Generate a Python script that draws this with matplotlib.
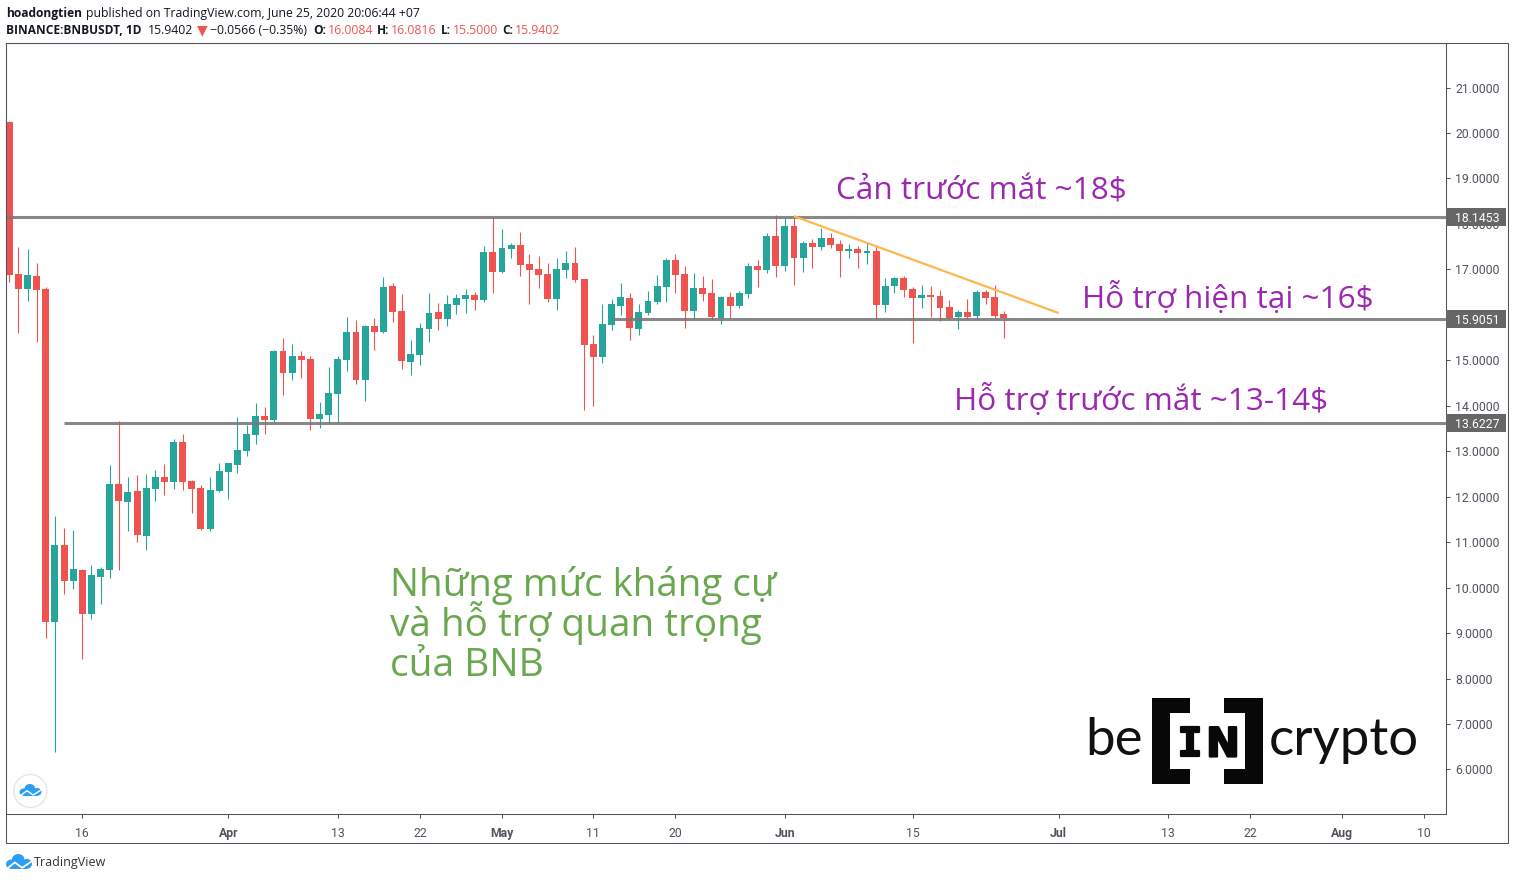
# BNBUSDT daily candles with support / resistance levels (TradingView style)
import matplotlib
matplotlib.use("Agg")
import matplotlib.dates as mdates
import matplotlib.patheffects as pe
import matplotlib.pyplot as plt
from matplotlib.patches import Circle, Ellipse, Rectangle
from matplotlib.transforms import blended_transform_factory
import pandas as pd

# ---------------------------------------------------------------------------
# Data
# ---------------------------------------------------------------------------
START_DATE = "2020-03-08"

opens = [20.24, 16.90, 16.57, 16.85, 16.57, 9.25, 10.94, 10.15, 10.39, 9.43,
         10.24, 10.39, 12.28, 11.89, 12.12, 11.14, 12.18, 12.43, 12.33, 13.20,
         12.35, 12.19, 11.30, 12.13, 12.55, 12.70, 13.01, 13.36, 13.77, 13.69,
         15.20, 14.73, 15.09, 15.03, 13.70, 13.80, 14.26, 15.01, 15.62, 14.57,
         15.75, 15.63, 16.63, 16.08, 14.97, 15.12, 15.69, 16.06, 15.91, 16.22,
         16.35, 16.43, 16.33, 17.38, 16.95, 17.45, 17.53, 17.12, 17.01, 16.90,
         16.35, 16.99, 17.14, 16.79, 15.36, 15.07, 15.77, 16.19, 16.37, 15.69,
         16.04, 16.28, 16.61, 17.20, 16.90, 16.08, 16.59, 16.48, 15.93, 16.39,
         16.19, 16.46, 17.07, 16.99, 17.73, 17.07, 17.95, 17.25, 17.58, 17.49,
         17.69, 17.56, 17.40, 17.45, 17.36, 17.40, 16.21, 16.63, 16.81, 16.57,
         16.37, 16.43, 16.41, 16.17, 15.95, 16.06, 15.97, 16.50, 16.39, 16.0084]
highs = [20.26, 17.49, 17.45, 17.14, 16.61, 11.58, 11.31, 11.27, 10.41, 10.50,
         10.45, 12.70, 13.66, 12.43, 12.48, 12.50, 12.59, 12.72, 13.27, 13.38,
         12.37, 12.26, 12.43, 12.74, 12.74, 13.75, 13.58, 14.06, 13.97, 15.22,
         15.49, 15.36, 15.20, 15.09, 14.08, 14.85, 15.09, 15.95, 15.89, 15.77,
         15.93, 16.83, 16.70, 16.46, 15.45, 15.82, 16.48, 16.26, 16.43, 16.46,
         16.57, 16.50, 17.51, 18.15, 17.88, 17.58, 17.82, 17.34, 17.29, 17.14,
         17.25, 17.40, 17.49, 16.79, 15.56, 16.24, 16.35, 16.70, 16.48, 16.24,
         16.52, 16.87, 17.25, 17.34, 17.07, 16.92, 16.85, 16.79, 16.41, 16.50,
         16.52, 17.14, 17.20, 17.80, 18.20, 18.13, 18.20, 17.62, 17.67, 17.91,
         17.80, 17.64, 17.56, 17.51, 17.58, 17.51, 16.81, 16.83, 16.85, 16.61,
         16.65, 16.63, 16.55, 16.32, 16.10, 16.35, 16.55, 16.55, 16.65, 16.0816]
lows = [16.73, 15.61, 16.31, 15.41, 8.90, 6.39, 9.87, 9.98, 8.44, 9.32,
        9.65, 10.22, 10.39, 11.25, 11.01, 10.83, 11.91, 12.04, 12.18, 12.15,
        11.65, 11.27, 11.25, 12.11, 11.96, 12.53, 12.90, 13.17, 13.38, 13.63,
        14.24, 14.57, 14.62, 13.47, 13.52, 13.63, 13.64, 14.77, 14.48, 14.11,
        15.23, 15.61, 15.85, 14.81, 14.68, 14.90, 15.41, 15.67, 15.76, 16.02,
        16.05, 16.11, 16.29, 16.49, 16.93, 17.26, 16.85, 16.24, 16.59, 16.28,
        16.10, 16.81, 16.72, 13.91, 13.99, 14.94, 15.67, 16.00, 15.45, 15.56,
        16.00, 16.24, 16.28, 16.48, 15.71, 15.91, 16.30, 15.89, 15.80, 15.93,
        16.15, 16.37, 16.61, 16.92, 16.83, 16.96, 16.65, 16.94, 17.03, 17.42,
        17.47, 16.83, 17.25, 17.03, 17.12, 15.91, 16.06, 16.48, 16.39, 15.38,
        16.15, 15.95, 15.86, 15.89, 15.69, 15.91, 15.91, 16.24, 15.91, 15.50]
closes = [16.88, 16.57, 16.87, 16.55, 9.25, 10.94, 10.15, 10.41, 9.43, 10.28,
          10.41, 12.28, 11.91, 12.10, 11.16, 12.19, 12.43, 12.33, 13.20, 12.33,
          12.18, 11.30, 12.15, 12.56, 12.74, 13.03, 13.38, 13.77, 13.69, 15.20,
          14.73, 15.09, 15.01, 13.70, 13.82, 14.28, 15.03, 15.62, 14.57, 15.75,
          15.63, 16.61, 16.07, 14.99, 15.14, 15.71, 16.04, 15.91, 16.24, 16.37,
          16.43, 16.33, 17.38, 16.95, 17.47, 17.53, 17.10, 16.99, 16.87, 16.35,
          17.01, 17.14, 16.77, 15.34, 15.07, 15.80, 16.23, 16.39, 15.71, 16.06,
          16.30, 16.63, 17.20, 16.87, 16.08, 16.59, 16.46, 15.95, 16.39, 16.19,
          16.48, 17.07, 16.99, 17.73, 17.07, 17.95, 17.25, 17.58, 17.49, 17.69,
          17.53, 17.40, 17.45, 17.36, 17.40, 16.21, 16.63, 16.81, 16.55, 16.37,
          16.43, 16.39, 16.15, 15.93, 16.06, 15.95, 16.50, 16.37, 15.97, 15.9402]

price_ticks = list(range(6, 22))
date_ticks = ["2020-03-16", "2020-04-01", "2020-04-13", "2020-04-22", "2020-05-01",
              "2020-05-11", "2020-05-20", "2020-06-01", "2020-06-15", "2020-07-01",
              "2020-07-13", "2020-07-22", "2020-08-01", "2020-08-10"]
date_labels = ["16", "Apr", "13", "22", "May", "11", "20", "Jun", "15", "Jul",
               "13", "22", "Aug", "10"]
month_labels = ["Apr", "May", "Jun", "Jul", "Aug"]

level_values = [18.1453, 15.9051, 13.6227]
level_starts = ["2020-03-08", "2020-05-13", "2020-03-14"]
trend_dates = ["2020-06-02", "2020-07-01"]
trend_prices = [18.17, 16.04]

# ---------------------------------------------------------------------------
# Style
# ---------------------------------------------------------------------------
W, H = 1515, 880
UP = "#26a69a"
DOWN = "#ef5350"
AXIS = "#50535e"
LEVEL = "#787878"
BADGE = "#666666"
PURPLE = "#9c27b0"
GREEN = "#6aa84f"
BLUE = "#2e9ef4"
UI_FONT = ["Open Sans", "DejaVu Sans"]

plt.rcParams["font.family"] = ["Roboto", "DejaVu Sans"]

fig = plt.figure(figsize=(W / 100, H / 100), dpi=100, facecolor="white")
ax = fig.add_axes([6.0 / W, 1 - 814.0 / H, 1440 / W, 771 / H])

dates = pd.date_range(START_DATE, periods=len(opens))
x = mdates.date2num(dates)
first = x[0]

# ---------------------------------------------------------------------------
# Candles
# ---------------------------------------------------------------------------
colors = [UP if c >= o else DOWN for o, c in zip(opens, closes)]
tops = [max(o, c) for o, c in zip(opens, closes)]
bottoms = [min(o, c) for o, c in zip(opens, closes)]
heights = [t - b for t, b in zip(tops, bottoms)]

ax.vlines(x, lows, highs, colors=colors, linewidth=0.8, zorder=3)
ax.bar(x, heights, bottom=bottoms, width=0.76, color=colors, linewidth=0, zorder=3)

# Levels and trend line
for value, start in zip(level_values, level_starts):
    x_start = mdates.date2num(pd.Timestamp(start))
    if start == START_DATE:
        x_start = first - 0.36
    ax.plot([x_start, first + 157.45], [value, value], color=LEVEL, alpha=0.88,
            linewidth=2.2, solid_capstyle="butt", zorder=4)

ax.plot(mdates.date2num(pd.to_datetime(trend_dates)), trend_prices, color="#ffb74d",
        linewidth=1.6, solid_capstyle="butt", zorder=5)

# ---------------------------------------------------------------------------
# Axes
# ---------------------------------------------------------------------------
ax.set_xlim(first - 0.36, first + 157.45)
ax.set_ylim(5.02, 21.98)
ax.yaxis.tick_right()
ax.set_yticks(price_ticks)
ax.set_yticklabels([f"{p:.4f}" for p in price_ticks])
ax.set_xticks(mdates.date2num(pd.to_datetime(date_ticks)))
ax.set_xticklabels(date_labels)
ax.tick_params(axis="y", length=3, width=0.75, color=AXIS, labelcolor=AXIS,
               labelsize=8.8, pad=3.5)
ax.tick_params(axis="x", length=3, width=0.75, color=AXIS, labelcolor=AXIS,
               labelsize=8.8, pad=6)
for label in ax.get_xticklabels():
    if label.get_text() in month_labels:
        label.set_fontweight("bold")
for spine in ax.spines.values():
    spine.set_color(AXIS)
    spine.set_linewidth(0.75)

# Price badges on the right axis
badge_tf = blended_transform_factory(ax.transAxes, ax.transData)
for value in level_values:
    ax.add_patch(Rectangle((1.0003, value - 0.2), 0.0417, 0.4, transform=badge_tf,
                           facecolor=BADGE, edgecolor="none", clip_on=False, zorder=6))
    ax.text(1.0215, value, f"{value:.4f}", transform=badge_tf, color="white", ha="center",
            va="center_baseline", fontsize=8.8, clip_on=False, zorder=7)

# ---------------------------------------------------------------------------
# Overlay in pixel coordinates: frame, header, notes, logos
# ---------------------------------------------------------------------------
deco = fig.add_axes([0, 0, 1, 1], zorder=10)
deco.set_xlim(0, W)
deco.set_ylim(H, 0)
deco.axis("off")
deco.add_patch(Rectangle((6.0, 43.0), 1502, 800, fill=False, edgecolor=AXIS, linewidth=0.75))


def header(px, py, text, color="#131722", weight="normal", size=8.85):
    deco.text(px, py, text, color=color, fontweight=weight, fontsize=size, family=UI_FONT,
              va="baseline")


header(6, 17, "hoadongtien", weight="bold", size=8.65)
header(86, 17, "published on TradingView.com, June 25, 2020 20:06:44 +07")
header(6, 34, "BINANCE:BNBUSDT, 1D", weight="bold", size=8.6)
header(148, 34, "15.9402")
deco.text(196.5, 34, "▼", color=DOWN, fontsize=10, family="DejaVu Sans", va="baseline")
header(210, 34, "−0.0566 (−0.35%)")
for px, name, value_px, value in [(313, "O:", 328, "16.0084"), (377, "H:", 391, "16.0816"),
                                  (441, "L:", 453, "15.5000"), (502, "C:", 515, "15.9402")]:
    header(px, 34, name, weight="bold", size=8.6)
    header(value_px, 34, value, color=DOWN)

# Notes on the chart
NOTE_FONT = ["Open Sans", "DejaVu Sans"]
deco.text(836.5, 200, "Cản trước mắt ~18$", color=PURPLE, fontsize=22.65, family=NOTE_FONT)
deco.text(1082.5, 308, "Hỗ trợ hiện tại ~16$", color=PURPLE, fontsize=22.65, family=NOTE_FONT)
deco.text(954.5, 410, "Hỗ trợ trước mắt ~13-14$", color=PURPLE, fontsize=22.65, family=NOTE_FONT)
deco.text(390, 596, "Những mức kháng cự", color=GREEN, fontsize=27.7, family=NOTE_FONT)
deco.text(390, 636, "và hỗ trợ quan trọng", color=GREEN, fontsize=27.95, family=NOTE_FONT)
deco.text(390, 676, "của BNB", color=GREEN, fontsize=28.1, family=NOTE_FONT)


def cloud(px, py, w, h, color=BLUE):
    # small TradingView cloud: three bumps on a flat base with a white zigzag
    for cx, cy, ew, eh in [(0.2, 0.68, 0.4, 0.62), (0.47, 0.36, 0.48, 0.72),
                           (0.8, 0.66, 0.4, 0.66)]:
        deco.add_patch(Ellipse((px + cx * w, py + cy * h), ew * w, eh * h,
                               facecolor=color, edgecolor="none"))
    deco.add_patch(Rectangle((px + 0.2 * w, py + 0.55 * h), 0.6 * w, 0.45 * h,
                             facecolor=color, edgecolor="none"))
    deco.plot([px + 0.04 * w, px + 0.34 * w, px + 0.62 * w, px + 0.98 * w],
              [py + 0.98 * h, py + 0.56 * h, py + 0.92 * h, py + 0.5 * h],
              color="white", linewidth=h * 0.085)


deco.add_patch(Circle((30.3, 791), 16.5, facecolor="white", edgecolor="#e6e6e6", linewidth=1))
cloud(19.5, 784, 22, 12)
cloud(6, 854, 26, 15)
deco.text(34, 866, "TradingView", color="#333333", fontsize=9, family=UI_FONT)

# beincrypto logo
LOGO_FONT = ["Lato", "Open Sans"]
deco.text(1085, 755, "be", color="#111111", fontsize=38, family=LOGO_FONT)
deco.text(1269, 755, "crypto", color="#111111", fontsize=38, family=LOGO_FONT)
for bx, by, bw, bh in [(1151.7, 698, 18.3, 86), (1151.7, 698, 38.3, 15), (1151.7, 769, 38.3, 15),
                       (1245, 698, 18.3, 86), (1224, 698, 39.3, 15), (1224, 769, 39.3, 15)]:
    deco.add_patch(Rectangle((bx, by), bw, bh, facecolor="#080808", edgecolor="none"))
thick = [pe.withStroke(linewidth=1.6, foreground="#080808")]
deco.text(1190, 741, "I", color="#080808", fontsize=29, family="DejaVu Sans Mono", fontweight="bold",
          ha="center", va="center_baseline", path_effects=thick)
deco.text(1223, 741, "N", color="#080808", fontsize=29, family="DejaVu Sans", fontweight="bold",
          ha="center", va="center_baseline", path_effects=thick)

fig.savefig("out.png", dpi=100, facecolor="white")
